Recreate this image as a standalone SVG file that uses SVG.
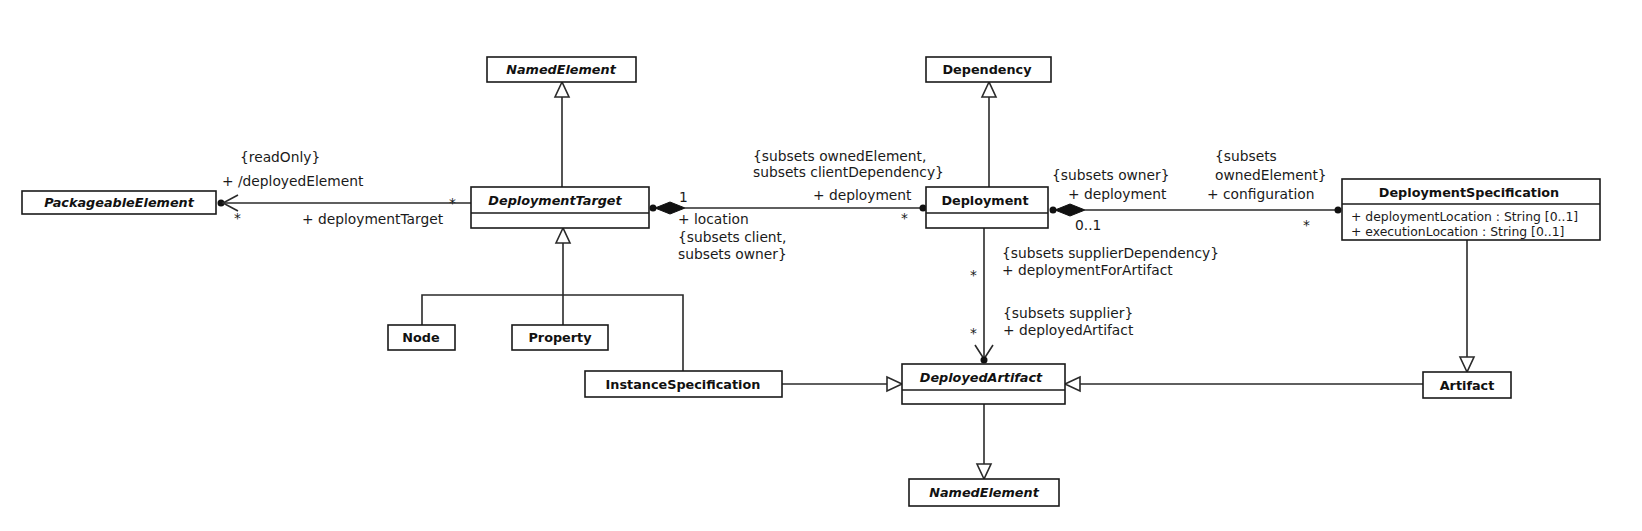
<svg xmlns="http://www.w3.org/2000/svg" width="1642" height="531" viewBox="0 0 1642 531">
<style>
.box{fill:#fff;stroke:#1a1a1a;stroke-width:1.6}
.div{stroke:#1a1a1a;stroke-width:1.6}
.cn{font-family:"DejaVu Sans",Verdana,sans-serif;font-weight:bold;font-size:12.8px;fill:#111;text-anchor:middle}
.ab{font-style:italic}
.attr{font-family:"DejaVu Sans",Verdana,sans-serif;font-size:12.4px;fill:#1a1a1a}
.lbl{font-family:"DejaVu Sans",Verdana,sans-serif;font-size:13.8px;fill:#1a1a1a}
.ln{fill:none;stroke:#2a2a2a;stroke-width:1.6}
.tri{fill:#fff;stroke:#2a2a2a;stroke-width:1.6}
.dia{fill:#111;stroke:#111;stroke-width:1}
.dot{fill:#111}
</style>
<rect width="1642" height="531" fill="#fff"/>

<g id="connectors">
  <!-- generalizations -->
  <line class="ln" x1="562" y1="187" x2="562" y2="97"/>
  <polygon class="tri" points="562,82 555,97 569,97"/>
  <line class="ln" x1="989" y1="187" x2="989" y2="97"/>
  <polygon class="tri" points="989,82 982,97 996,97"/>
  <line class="ln" x1="563" y1="325" x2="563" y2="243"/>
  <polygon class="tri" points="563,228 556,243 570,243"/>
  <polyline class="ln" points="422,325 422,295 683,295 683,371"/>
  <line class="ln" x1="782" y1="384" x2="887" y2="384"/>
  <polygon class="tri" points="902,384 887,377 887,391"/>
  <line class="ln" x1="1423" y1="384" x2="1080" y2="384"/>
  <polygon class="tri" points="1065,384 1080,377 1080,391"/>
  <line class="ln" x1="1467" y1="240" x2="1467" y2="357"/>
  <polygon class="tri" points="1467,372 1460,357 1474,357"/>
  <line class="ln" x1="984" y1="404" x2="984" y2="464"/>
  <polygon class="tri" points="984,479 977,464 991,464"/>
  <!-- associations -->
  <line class="ln" x1="222" y1="203" x2="471" y2="203"/>
  <circle class="dot" cx="221" cy="203" r="3.5"/>
  <polyline class="ln" points="238,195 223,203 238,211"/>
  <circle class="dot" cx="653" cy="208" r="3.5"/>
  <polygon class="dia" points="655,208 670,202 685,208 670,214"/>
  <line class="ln" x1="685" y1="208" x2="923" y2="208"/>
  <circle class="dot" cx="923" cy="208" r="3.5"/>
  <line class="ln" x1="984" y1="228" x2="984" y2="359"/>
  <polyline class="ln" points="975,345 984,359 993,345"/>
  <circle class="dot" cx="984" cy="360" r="3.5"/>
  <circle class="dot" cx="1053" cy="210" r="3.5"/>
  <polygon class="dia" points="1055,210 1070,204 1085,210 1070,216"/>
  <line class="ln" x1="1085" y1="210" x2="1338" y2="210"/>
  <circle class="dot" cx="1338" cy="210" r="3.5"/>
  <!-- labels -->
  <text class="lbl" x="240" y="162">{readOnly}</text>
  <text class="lbl" x="222" y="186">+ /deployedElement</text>
  <text class="lbl" x="449" y="208">*</text>
  <text class="lbl" x="234" y="223">*</text>
  <text class="lbl" x="302" y="224">+ deploymentTarget</text>
  <text class="lbl" x="679" y="202">1</text>
  <text class="lbl" x="678" y="224">+ location</text>
  <text class="lbl" x="678" y="242">{subsets client,</text>
  <text class="lbl" x="678" y="259">subsets owner}</text>
  <text class="lbl" x="753" y="161">{subsets ownedElement,</text>
  <text class="lbl" x="753" y="177">subsets clientDependency}</text>
  <text class="lbl" x="813" y="200">+ deployment</text>
  <text class="lbl" x="901" y="223">*</text>
  <text class="lbl" x="1052" y="180">{subsets owner}</text>
  <text class="lbl" x="1068" y="199">+ deployment</text>
  <text class="lbl" x="1075" y="230">0..1</text>
  <text class="lbl" x="1215" y="161">{subsets</text>
  <text class="lbl" x="1215" y="180">ownedElement}</text>
  <text class="lbl" x="1207" y="199">+ configuration</text>
  <text class="lbl" x="1303" y="230">*</text>
  <text class="lbl" x="1002" y="258">{subsets supplierDependency}</text>
  <text class="lbl" x="1002" y="275">+ deploymentForArtifact</text>
  <text class="lbl" x="970" y="280">*</text>
  <text class="lbl" x="1003" y="318">{subsets supplier}</text>
  <text class="lbl" x="1003" y="335">+ deployedArtifact</text>
  <text class="lbl" x="970" y="338">*</text>
</g>

<g id="PackageableElement">
  <rect class="box" x="22" y="191" width="194" height="23"/>
  <text class="cn ab" x="119" y="207">PackageableElement</text>
</g>
<g id="NamedElementTop">
  <rect class="box" x="487" y="57" width="149" height="25"/>
  <text class="cn ab" x="561" y="74">NamedElement</text>
</g>
<g id="DeploymentTarget">
  <rect class="box" x="471" y="187" width="178" height="41"/>
  <line class="div" x1="471" y1="213" x2="649" y2="213"/>
  <text class="cn ab" x="555" y="205">DeploymentTarget</text>
</g>
<g id="Dependency">
  <rect class="box" x="926" y="57" width="125" height="25"/>
  <text class="cn" x="987" y="74">Dependency</text>
</g>
<g id="Deployment">
  <rect class="box" x="926" y="187" width="122" height="41"/>
  <line class="div" x1="926" y1="213" x2="1048" y2="213"/>
  <text class="cn" x="985" y="205">Deployment</text>
</g>
<g id="DeploymentSpecification">
  <rect class="box" x="1342" y="179" width="258" height="61"/>
  <line class="div" x1="1342" y1="204" x2="1600" y2="204"/>
  <text class="cn" x="1469" y="197">DeploymentSpecification</text>
  <text class="attr" x="1351" y="221">+ deploymentLocation : String [0..1]</text>
  <text class="attr" x="1351" y="236">+ executionLocation : String [0..1]</text>
</g>
<g id="Node">
  <rect class="box" x="388" y="325" width="67" height="25"/>
  <text class="cn" x="421" y="342">Node</text>
</g>
<g id="Property">
  <rect class="box" x="512" y="325" width="96" height="25"/>
  <text class="cn" x="560" y="342">Property</text>
</g>
<g id="InstanceSpecification">
  <rect class="box" x="585" y="371" width="197" height="26"/>
  <text class="cn" x="683" y="389">InstanceSpecification</text>
</g>
<g id="DeployedArtifact">
  <rect class="box" x="902" y="364" width="163" height="40"/>
  <line class="div" x1="902" y1="390" x2="1065" y2="390"/>
  <text class="cn ab" x="981" y="382">DeployedArtifact</text>
</g>
<g id="Artifact">
  <rect class="box" x="1423" y="372" width="88" height="26"/>
  <text class="cn" x="1467" y="390">Artifact</text>
</g>
<g id="NamedElementBottom">
  <rect class="box" x="909" y="479" width="150" height="27"/>
  <text class="cn ab" x="984" y="497">NamedElement</text>
</g>
</svg>
